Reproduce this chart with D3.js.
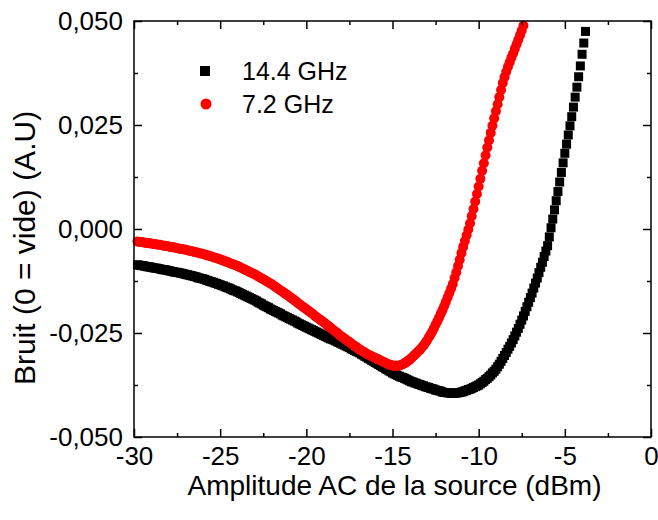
<!DOCTYPE html>
<meta charset="utf-8">
<style>
  body { margin: 0; background: #fff; }
  text { font-family: "Liberation Sans", Arial, sans-serif; fill: #000; }
</style>
<svg width="658" height="520"></svg>
<script src="https://d3js.org/d3.v7.min.js"></script>
<script>
// x grid of the measurement (dBm), 0.1 dBm step
const blackStart = -29.8, redStart = -29.8, step = 0.1

// 14.4 GHz
const noise144 = [
  -0.0086, -0.0087, -0.0088, -0.0088, -0.0089, -0.0090, -0.0091, -0.0091,
  -0.0092, -0.0093, -0.0094, -0.0094, -0.0095, -0.0096, -0.0097, -0.0098, -0.0098, -0.0099,
  -0.0100, -0.0101, -0.0102, -0.0103, -0.0104, -0.0104, -0.0105, -0.0106, -0.0107, -0.0108,
  -0.0109, -0.0110, -0.0111, -0.0112, -0.0113, -0.0114, -0.0115, -0.0117, -0.0118, -0.0119,
  -0.0120, -0.0121, -0.0123, -0.0124, -0.0126, -0.0127, -0.0128, -0.0130, -0.0131, -0.0133,
  -0.0134, -0.0136, -0.0137, -0.0139, -0.0141, -0.0142, -0.0144, -0.0146, -0.0148, -0.0149,
  -0.0151, -0.0153, -0.0155, -0.0157, -0.0159, -0.0161, -0.0163, -0.0165, -0.0167, -0.0169,
  -0.0171, -0.0173, -0.0176, -0.0178, -0.0180, -0.0183, -0.0185, -0.0187, -0.0189, -0.0192,
  -0.0194, -0.0196, -0.0198, -0.0200, -0.0202, -0.0204, -0.0207, -0.0209, -0.0211, -0.0213,
  -0.0215, -0.0217, -0.0219, -0.0221, -0.0223, -0.0226, -0.0228, -0.0230, -0.0232, -0.0234,
  -0.0236, -0.0238, -0.0240, -0.0242, -0.0244, -0.0246, -0.0248, -0.0250, -0.0252, -0.0254,
  -0.0256, -0.0258, -0.0260, -0.0262, -0.0264, -0.0265, -0.0267, -0.0269, -0.0271, -0.0273,
  -0.0275, -0.0277, -0.0279, -0.0281, -0.0283, -0.0285, -0.0288, -0.0290, -0.0292, -0.0294,
  -0.0296, -0.0298, -0.0301, -0.0303, -0.0306, -0.0308, -0.0311, -0.0313, -0.0316, -0.0318,
  -0.0321, -0.0323, -0.0326, -0.0328, -0.0331, -0.0333, -0.0336, -0.0338, -0.0341, -0.0343,
  -0.0346, -0.0348, -0.0350, -0.0352, -0.0354, -0.0356, -0.0357, -0.0359, -0.0361, -0.0363,
  -0.0365, -0.0367, -0.0368, -0.0370, -0.0371, -0.0373, -0.0374, -0.0376, -0.0377, -0.0379,
  -0.0380, -0.0381, -0.0383, -0.0384, -0.0385, -0.0387, -0.0388, -0.0389, -0.0390, -0.0392,
  -0.0393, -0.0393, -0.0394, -0.0394, -0.0395, -0.0395, -0.0395, -0.0394, -0.0394, -0.0393,
  -0.0392, -0.0391, -0.0389, -0.0388, -0.0386, -0.0385, -0.0383, -0.0381, -0.0379, -0.0377,
  -0.0375, -0.0372, -0.0369, -0.0366, -0.0362, -0.0359, -0.0355, -0.0351, -0.0346, -0.0342,
  -0.0337, -0.0331, -0.0325, -0.0318, -0.0311, -0.0304, -0.0297, -0.0289, -0.0282, -0.0274,
  -0.0266, -0.0257, -0.0248, -0.0239, -0.0229, -0.0219, -0.0209, -0.0198, -0.0187, -0.0176,
  -0.0165, -0.0154, -0.0142, -0.0130, -0.0118, -0.0105, -0.0092, -0.0080, -0.0066, -0.0053,
  -0.0040, -0.0019, 0.0003, 0.0024, 0.0046, 0.0068, 0.0090, 0.0113, 0.0136, 0.0159,
  0.0182, 0.0204, 0.0226, 0.0248, 0.0270, 0.0293, 0.0317, 0.0341, 0.0366, 0.0392,
  0.0420, 0.0447, 0.0475
]

// 7.2 GHz
const noise72 = [
  -0.0030, -0.0031, -0.0031, -0.0032, -0.0033, -0.0033, -0.0034, -0.0034,
  -0.0035, -0.0036, -0.0036, -0.0037, -0.0038, -0.0038, -0.0039, -0.0040, -0.0040, -0.0041,
  -0.0042, -0.0043, -0.0044, -0.0044, -0.0045, -0.0046, -0.0047, -0.0048, -0.0048, -0.0049,
  -0.0050, -0.0051, -0.0052, -0.0053, -0.0054, -0.0055, -0.0056, -0.0057, -0.0058, -0.0059,
  -0.0060, -0.0061, -0.0063, -0.0064, -0.0065, -0.0066, -0.0068, -0.0069, -0.0070, -0.0072,
  -0.0073, -0.0075, -0.0076, -0.0078, -0.0079, -0.0081, -0.0083, -0.0084, -0.0086, -0.0087,
  -0.0089, -0.0091, -0.0093, -0.0095, -0.0097, -0.0099, -0.0101, -0.0103, -0.0105, -0.0107,
  -0.0109, -0.0111, -0.0114, -0.0116, -0.0119, -0.0121, -0.0123, -0.0126, -0.0128, -0.0131,
  -0.0133, -0.0136, -0.0139, -0.0142, -0.0145, -0.0148, -0.0150, -0.0153, -0.0156, -0.0159,
  -0.0162, -0.0165, -0.0168, -0.0171, -0.0174, -0.0178, -0.0181, -0.0184, -0.0187, -0.0190,
  -0.0193, -0.0196, -0.0199, -0.0202, -0.0205, -0.0209, -0.0212, -0.0215, -0.0218, -0.0221,
  -0.0224, -0.0227, -0.0231, -0.0234, -0.0237, -0.0241, -0.0244, -0.0247, -0.0250, -0.0254,
  -0.0257, -0.0260, -0.0263, -0.0266, -0.0269, -0.0272, -0.0275, -0.0278, -0.0281, -0.0284,
  -0.0287, -0.0290, -0.0292, -0.0295, -0.0297, -0.0300, -0.0302, -0.0304, -0.0306, -0.0308,
  -0.0310, -0.0312, -0.0314, -0.0316, -0.0318, -0.0320, -0.0322, -0.0324, -0.0326, -0.0327,
  -0.0328, -0.0329, -0.0329, -0.0329, -0.0328, -0.0327, -0.0325, -0.0323, -0.0320, -0.0317,
  -0.0314, -0.0310, -0.0306, -0.0302, -0.0298, -0.0294, -0.0290, -0.0285, -0.0280, -0.0274,
  -0.0268, -0.0261, -0.0254, -0.0247, -0.0239, -0.0230, -0.0222, -0.0213, -0.0204, -0.0195,
  -0.0185, -0.0175, -0.0164, -0.0154, -0.0143, -0.0132, -0.0118, -0.0104, -0.0089, -0.0074,
  -0.0058, -0.0043, -0.0029, -0.0015, -0.0001, 0.0014, 0.0031, 0.0048, 0.0066, 0.0084,
  0.0102, 0.0121, 0.0140, 0.0158, 0.0177, 0.0196, 0.0213, 0.0231, 0.0248, 0.0266,
  0.0283, 0.0300, 0.0317, 0.0334, 0.0351, 0.0365, 0.0378, 0.0390, 0.0401, 0.0412,
  0.0422, 0.0433, 0.0444, 0.0455, 0.0466, 0.0477, 0.0489
]

const xTicks = [-30, -25, -20, -15, -10, -5, 0]
const xMinor = [-27.5, -22.5, -17.5, -12.5, -7.5, -2.5]
const yTicks = [-0.05, -0.025, 0, 0.025, 0.05]
const yMinor = [-0.0375, -0.0125, 0.0125, 0.0375]
const seriesNames = ["14.4 GHz", "7.2 GHz"]

const svg = d3.select('svg')
const m = { left: 134, right: 651, top: 21, bottom: 437 }

const x = d3.scaleLinear().domain([-30, 0]).range([m.left, m.right])
const y = d3.scaleLinear().domain([-0.05, 0.05]).range([m.bottom, m.top])

const loc = d3.formatLocale({ decimal: ",", thousands: ".", grouping: [3], currency: ["", ""], minus: "-" })
const fy = loc.format(".3f")
const fx = loc.format("d")

function pts(start, vals) {
  return vals.map((v, i) => ({ x: +(start + i * step).toFixed(1), y: v }))
}

// data
svg.append('g')
  .selectAll('rect')
  .data(pts(blackStart, noise144))
  .enter().append('rect')
  .attr('x', d => x(d.x) - 4.5)
  .attr('y', d => y(d.y) - 4.5)
  .attr('width', 9)
  .attr('height', 9)
  .attr('fill', '#000')

svg.append('g')
  .selectAll('circle')
  .data(pts(redStart, noise72))
  .enter().append('circle')
  .attr('cx', d => x(d.x))
  .attr('cy', d => y(d.y))
  .attr('r', 5)
  .attr('fill', '#ff0000')

// axes, ticks inside on all four sides
function styleAxis(g) {
  g.select('.domain').remove()
  g.selectAll('.tick line').attr('stroke', '#000').attr('stroke-width', 1.5)
  g.selectAll('.tick text').attr('font-size', 26).attr('font-family', '"Liberation Sans", Arial, sans-serif')
}

svg.append('g').attr('transform', `translate(0,${m.bottom})`)
  .call(d3.axisBottom(x).tickValues(xTicks).tickSize(-8).tickPadding(10).tickFormat(fx)).call(styleAxis)
svg.append('g').attr('transform', `translate(0,${m.bottom})`)
  .call(d3.axisBottom(x).tickValues(xMinor).tickSize(-4).tickFormat('')).call(styleAxis)
svg.append('g').attr('transform', `translate(0,${m.top})`)
  .call(d3.axisTop(x).tickValues(xTicks).tickSize(-8).tickFormat('')).call(styleAxis)
svg.append('g').attr('transform', `translate(0,${m.top})`)
  .call(d3.axisTop(x).tickValues(xMinor).tickSize(-4).tickFormat('')).call(styleAxis)

svg.append('g').attr('transform', `translate(${m.left},0)`)
  .call(d3.axisLeft(y).tickValues(yTicks).tickSize(-8).tickPadding(11).tickFormat(fy)).call(styleAxis)
svg.append('g').attr('transform', `translate(${m.left},0)`)
  .call(d3.axisLeft(y).tickValues(yMinor).tickSize(-4).tickFormat('')).call(styleAxis)
svg.append('g').attr('transform', `translate(${m.right},0)`)
  .call(d3.axisRight(y).tickValues(yTicks).tickSize(-8).tickFormat('')).call(styleAxis)
svg.append('g').attr('transform', `translate(${m.right},0)`)
  .call(d3.axisRight(y).tickValues(yMinor).tickSize(-4).tickFormat('')).call(styleAxis)

svg.append('rect')
  .attr('x', m.left).attr('y', m.top)
  .attr('width', m.right - m.left).attr('height', m.bottom - m.top)
  .attr('fill', 'none').attr('stroke', '#000').attr('stroke-width', 1.5)

// titles
svg.append('text')
  .attr('x', (m.left + m.right) / 2 + 2)
  .attr('y', 495)
  .attr('text-anchor', 'middle')
  .attr('font-size', 28)
  .text('Amplitude AC de la source (dBm)')

svg.append('text')
  .attr('transform', `translate(35,248) rotate(-90)`)
  .attr('text-anchor', 'middle')
  .attr('font-size', 30)
  .text('Bruit (0 = vide) (A.U)')

// legend
const leg = svg.append('g')
leg.append('rect').attr('x', 200).attr('y', 66).attr('width', 10).attr('height', 10).attr('fill', '#000')
leg.append('circle').attr('cx', 206).attr('cy', 104).attr('r', 5.5).attr('fill', '#ff0000')
leg.selectAll('text').data(seriesNames).enter().append('text')
  .attr('x', 242)
  .attr('y', (d, i) => 80 + i * 33)
  .attr('font-size', 25)
  .text(d => d)
</script>
